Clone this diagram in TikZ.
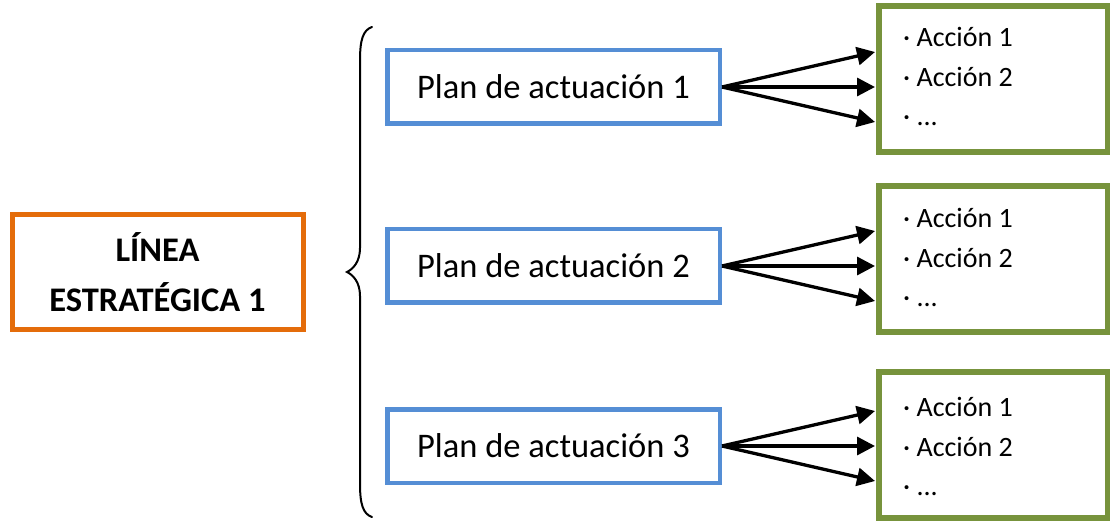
\documentclass[tikz,border=0pt]{standalone}
\usepackage{fontspec}
\setmainfont{Carlito}
\usetikzlibrary{arrows.meta,calc}
\definecolor{lineaorange}{HTML}{E46C0A}
\definecolor{planblue}{HTML}{558ED5}
\definecolor{accgreen}{HTML}{77933C}
\tikzset{
  lineabox/.style={draw=lineaorange, line width=5pt, minimum width=291pt, minimum height=115pt, inner sep=0pt, align=center, font=\fontsize{34.5}{50}\selectfont\bfseries},
  planbox/.style={draw=planblue, line width=4.5pt, minimum width=332.5pt, minimum height=73.5pt, inner sep=0pt, font=\fontsize{34.5}{40}\selectfont, text height=23pt, text depth=0pt},
  accbox/.style={draw=accgreen, line width=5.5pt, minimum width=228.5pt, minimum height=146pt, inner sep=0pt},
  acctext/.style={anchor=base west, inner sep=0pt, font=\fontsize{28}{34}\selectfont},
  arr/.style={line width=3.3pt, -{Triangle[length=18pt,width=18pt]}},
  bracestyle/.style={line width=2pt, line cap=round}
}
\begin{document}
\begin{tikzpicture}[x=1pt,y=-1pt]
\useasboundingbox (0,0) rectangle (1111,521);
% main box
\node[lineabox] (L) at (157.5,272) {LÍNEA\\ESTRATÉGICA 1};
% brace
\draw[bracestyle] (372,27) .. controls (363,30) and (360,40) .. (360,60) -- (360,248)
  .. controls (360,262) and (353,269) .. (347,272)
  .. controls (353,275) and (360,282) .. (360,296) -- (360,484)
  .. controls (360,504) and (363,514) .. (372,517);
% plan boxes
\node[planbox] (p1) at (553.5,87) {Plan de actuación 1};
\node[planbox] (p2) at (553.5,266) {Plan de actuación 2};
\node[planbox] (p3) at (553.5,446) {Plan de actuación 3};
% action boxes
\node[accbox] (g1) at (993,79) {};
\node[accbox] (g2) at (993,259) {};
\node[accbox] (g3) at (993,445) {};
\foreach \g/\t in {g1/3,g2/184,g3/372}{
  \node[acctext] (\g a) at (903,\t+44) {· Acción 1};
  \node[acctext] (\g b) at (903,\t+84) {· Acción 2};
  \node[acctext] (\g c) at (903,\t+123) {· ...};
}
% arrows
\foreach \p/\g in {p1/g1,p2/g2,p3/g3}{
  \coordinate (\p u) at ($(\p.east -| \g.west)+(-1,-35)$);
  \coordinate (\p m) at ($(\p.east -| \g.west)+(-1,0)$);
  \coordinate (\p d) at ($(\p.east -| \g.west)+(-1,35)$);
  \draw[arr] (\p.east) -- (\p u);
  \draw[arr] (\p.east) -- (\p m);
  \draw[arr] (\p.east) -- (\p d);
}
\end{tikzpicture}
\end{document}
